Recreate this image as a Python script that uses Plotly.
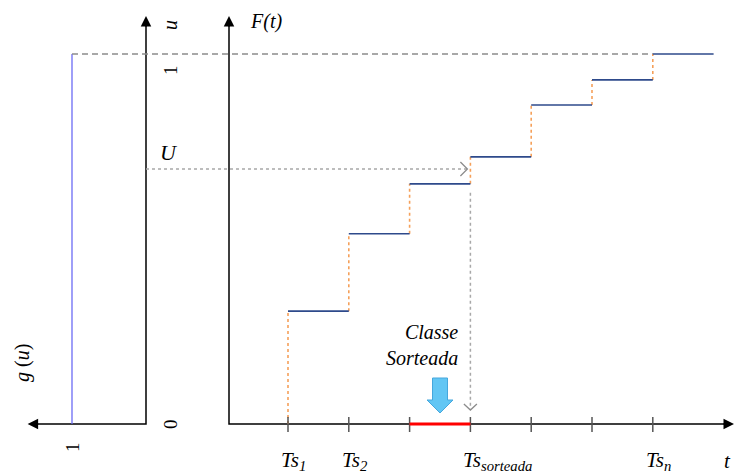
import plotly.graph_objects as go

# ---------------- data ----------------
t_ticks = [1, 2, 3, 4, 5, 6, 7]
tick_labels = ["Ts<sub>1</sub>", "Ts<sub>2</sub>", "", "Ts<sub>sorteada</sub>", "", "", "Ts<sub>n</sub>"]
step_levels = [0.305, 0.514, 0.649, 0.722, 0.862, 0.930, 1.0]
t_last_end = 8.0
U_value = 0.689
sorted_tick = 4          # upper bound of the drawn class (Ts_sorteada)
g_value = 1.0            # uniform density g(u)=1

# ---------------- layout constants ----------------
W, H = 735, 474
U0_PX, U1_PX = 424, 54          # pixel rows of u=0 and u=1
G0_PX, G_PX_PER = 146, 74       # pixel col of g=0, px per g unit (reversed)
T1_PX, T_PX_PER = 288, 60.8     # pixel col of t=1, px per t unit
U_PX_PER = U0_PX - U1_PX

y_range = [(U0_PX - H) / U_PX_PER, U0_PX / U_PX_PER]
xg_range = [G0_PX / G_PX_PER, (G0_PX - W) / G_PX_PER]
xt_range = [1 - T1_PX / T_PX_PER, 1 + (W - T1_PX) / T_PX_PER]

def g_to_t(g):
    px = G0_PX - g * G_PX_PER
    return 1 + (px - T1_PX) / T_PX_PER

def du(px):
    return px / U_PX_PER

def dt(px):
    return px / T_PX_PER

def dg(px):
    return px / G_PX_PER

t_origin = g_to_t(0) + dt(83)     # F(t) axis position
t_arrow_end = 1 + dt(W - 1 - T1_PX)
u_arrow_top = 1 + du(38)
g_arrow_end = 1.6

SERIF = "Liberation Serif"
fig = go.Figure()

def line(x, y, color, width, dash="solid", axis="x2"):
    fig.add_trace(go.Scatter(x=x, y=y, mode="lines", xaxis=axis, yaxis="y",
                             line=dict(color=color, width=width, dash=dash),
                             hoverinfo="skip", showlegend=False))

# axis lines (arrowheads added as annotations)
line([0, 0, g_arrow_end - dg(6)], [u_arrow_top - du(6), 0, 0], "black", 1.5, axis="x")
line([t_origin, t_origin, t_arrow_end - dt(6)], [u_arrow_top - du(6), 0, 0], "black", 1.5)

# density g(u) = 1
line([g_value, g_value], [0, 1], "#6B6BF5", 1.3, axis="x")
# dashed line at u = 1
line([g_to_t(g_value), t_ticks[-1]], [1, 1], "#8C8C8C", 1.5, dash="6px,4px")

# step function F(t)
ends = t_ticks[1:] + [t_last_end]
sx, sy, ox, oy = [], [], [], []
prev = 0.0
for t0, t1, lev in zip(t_ticks, ends, step_levels):
    sx += [t0, t1, None]
    sy += [lev, lev, None]
    ox += [t0, t0, None]
    oy += [prev, lev, None]
    prev = lev
line(ox, oy, "#F5A05A", 1.6, dash="dot")
line(sx, sy, "#2E4A8B", 1.6)

# dotted U line and chevron
t_sel = t_ticks[sorted_tick - 1]
t_tip = t_sel - dt(3)
line([g_to_t(0), t_tip], [U_value, U_value], "#A8A8A8", 1.5, dash="dot")
line([t_tip - dt(7), t_tip, t_tip - dt(7)], [U_value + du(7), U_value, U_value - du(7)], "#8C8C8C", 1.3)

# dotted vertical down to t axis and chevron
u_tip = du(14)
line([t_sel, t_sel], [step_levels[sorted_tick - 2] - du(9), u_tip], "#A8A8A8", 1.5, dash="dot")
line([t_sel - dt(6.5), t_sel, t_sel + dt(6.5)], [u_tip + du(6), u_tip, u_tip + du(6)], "#8C8C8C", 1.3)

# ticks on t axis
tx, ty = [], []
for t in t_ticks:
    tx += [t, t, None]
    ty += [du(7), -du(8), None]
line(tx, ty, "#555555", 1.5)

# selected class (red)
line([t_sel - 1, t_sel], [0, 0], "#FF0000", 3.2)

# block arrow pointing to the selected class
tc = t_sel - 0.5
u_top, u_neck, u_pt = du(46), du(24), du(11)
hs, hh = dt(7.5), dt(13)
fig.add_trace(go.Scatter(
    x=[tc - hs, tc + hs, tc + hs, tc + hh, tc, tc - hh, tc - hs, tc - hs],
    y=[u_top, u_top, u_neck, u_neck, u_pt, u_neck, u_neck, u_top],
    mode="lines", fill="toself", fillcolor="#62C6F4",
    line=dict(color="#45A7DD", width=1), xaxis="x2", yaxis="y",
    hoverinfo="skip", showlegend=False))

# ---------------- arrowheads ----------------
ann = []
def arrow(x, y, ax, ay, xref):
    ann.append(dict(x=x, y=y, ax=ax, ay=ay, xref=xref, yref="y", axref=xref, ayref="y",
                    text="", showarrow=True, arrowhead=2, arrowsize=1.4,
                    arrowwidth=1.5, arrowcolor="black", standoff=0))

arrow(0, u_arrow_top, 0, u_arrow_top - du(12), "x")                       # u axis
arrow(g_arrow_end, 0, g_arrow_end - dg(12), 0, "x")                       # g axis (left)
arrow(t_origin, u_arrow_top, t_origin, u_arrow_top - du(12), "x2")        # F(t) axis
arrow(t_arrow_end, 0, t_arrow_end - dt(12), 0, "x2")                      # t axis

def text(x, y, s, xref, size=20, angle=0, xanchor="center", yanchor="middle", xshift=0, align="center"):
    ann.append(dict(x=x, y=y, xref=xref, yref="y", text=s, showarrow=False,
                    textangle=angle, xanchor=xanchor, yanchor=yanchor, xshift=xshift,
                    align=align, font=dict(family=SERIF, size=size, color="black")))

# left panel labels
text(-0.324, 1 + du(29), "<i>u</i>", "x", size=20, angle=-90)
text(-0.324, 1 - du(16), "1", "x", size=19, angle=-90)
text(-0.324, 0, "0", "x", size=19, angle=-90)
text(g_value, -du(23), "1", "x", size=19, angle=-90)
text(1.676, du(61), "<i>g</i> (<i>u</i>)", "x", size=20, angle=-90)
text(-0.31, U_value + du(17), "<i>U</i>", "x", size=22)

# right panel labels
text(t_origin + dt(37), 1 + du(33), "<i>F(t)</i>", "x2", size=20)
for t, lab in zip(t_ticks, tick_labels):
    if lab:
        text(t, -du(37), "<i>" + lab + "</i>", "x2", size=21, xanchor="left", xshift=-9)
text(t_arrow_end - dt(7), -du(37), "<i>t</i>", "x2", size=21)
text(t_sel - dt(10), du(79), "<i>Classe<br>Sorteada</i>", "x2", size=20,
     xanchor="right", align="right")

fig.update_layout(
    width=W, height=H, margin=dict(l=0, r=0, t=0, b=0),
    paper_bgcolor="white", plot_bgcolor="white",
    showlegend=False, hovermode=False, annotations=ann,
    xaxis=dict(range=xg_range, visible=False, domain=[0, 1]),
    xaxis2=dict(range=xt_range, visible=False, domain=[0, 1], anchor="y", overlaying="x"),
    yaxis=dict(range=y_range, visible=False),
)
fig.write_html("out.html", config={"displayModeBar": False},
               post_script="document.body.style.margin='0';document.body.style.overflow='hidden';")
